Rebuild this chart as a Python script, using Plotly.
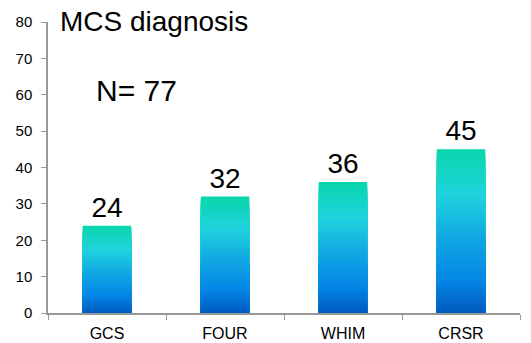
import plotly.graph_objects as go

categories = ["GCS", "FOUR", "WHIM", "CRSR"]
values = [24, 32, 36, 45]
y_ticks = [0, 10, 20, 30, 40, 50, 60, 70, 80]
title_text = "MCS diagnosis"
n_text = "N= 77"

# gradient stops: fraction from top of bar -> rgb
stops = [(0.0, (8, 214, 172)), (0.28, (32, 211, 222)), (0.55, (16, 166, 226)),
         (0.8, (4, 134, 230)), (1.0, (0, 90, 190))]

def color_at(t):
    for (t0, c0), (t1, c1) in zip(stops[:-1], stops[1:]):
        if t0 <= t <= t1:
            f = (t - t0) / (t1 - t0) if t1 > t0 else 0
            c = [round(a + (b - a) * f) for a, b in zip(c0, c1)]
            return "rgb(%d,%d,%d)" % tuple(c)
    return "rgb(%d,%d,%d)" % stops[-1][1]

N = 60
fig = go.Figure()
for k in range(N):
    frac = (N - k) / N  # top of this layer as fraction of bar height
    t = k / N + 0.5 / N
    fig.add_trace(go.Bar(
        x=categories, y=[v * frac for v in values],
        marker=dict(color=color_at(t), line=dict(width=0)),
        width=0.41, showlegend=False, hoverinfo="skip",
    ))

fig.add_trace(go.Bar(
    x=categories, y=values, marker=dict(color="rgba(0,0,0,0)", line=dict(width=0)),
    width=0.41, showlegend=False, text=[str(v) for v in values],
    textposition="outside", cliponaxis=False,
    textfont=dict(size=28, color="#000000", family="Liberation Sans, Arial, sans-serif"),
))

fig.update_layout(
    barmode="overlay", width=515, height=335,
    margin=dict(l=40, r=3, t=14, b=30, autoexpand=False),
    paper_bgcolor="white", plot_bgcolor="white",
    font=dict(family="Liberation Sans, Arial, sans-serif", color="#000000"),
    xaxis=dict(showline=True, linecolor="#999999", linewidth=1.5, ticks="outside",
               tickson="boundaries", ticklen=5, tickcolor="#999999",
               tickfont=dict(size=16), showgrid=False, automargin=False,
               ticklabelstandoff=5),
    yaxis=dict(range=[0, 80], tickvals=y_ticks, showline=True, linecolor="#999999",
               linewidth=1.5, ticks="outside", ticklen=5, tickcolor="#999999",
               tickfont=dict(size=15), showgrid=False, zeroline=False,
               ticklabelstandoff=6, automargin=False),
    annotations=[
        dict(text=title_text, xref="paper", yref="paper", x=0.021, y=1.0155,
             xanchor="left", yanchor="middle", showarrow=False, yshift=-4,
             font=dict(size=28, color="#000000")),
        dict(text=n_text, xref="paper", yref="paper", x=0.098, y=0.764,
             xanchor="left", yanchor="middle", showarrow=False,
             font=dict(size=30, color="#000000")),
    ],
)

fig.write_html("out.html")
